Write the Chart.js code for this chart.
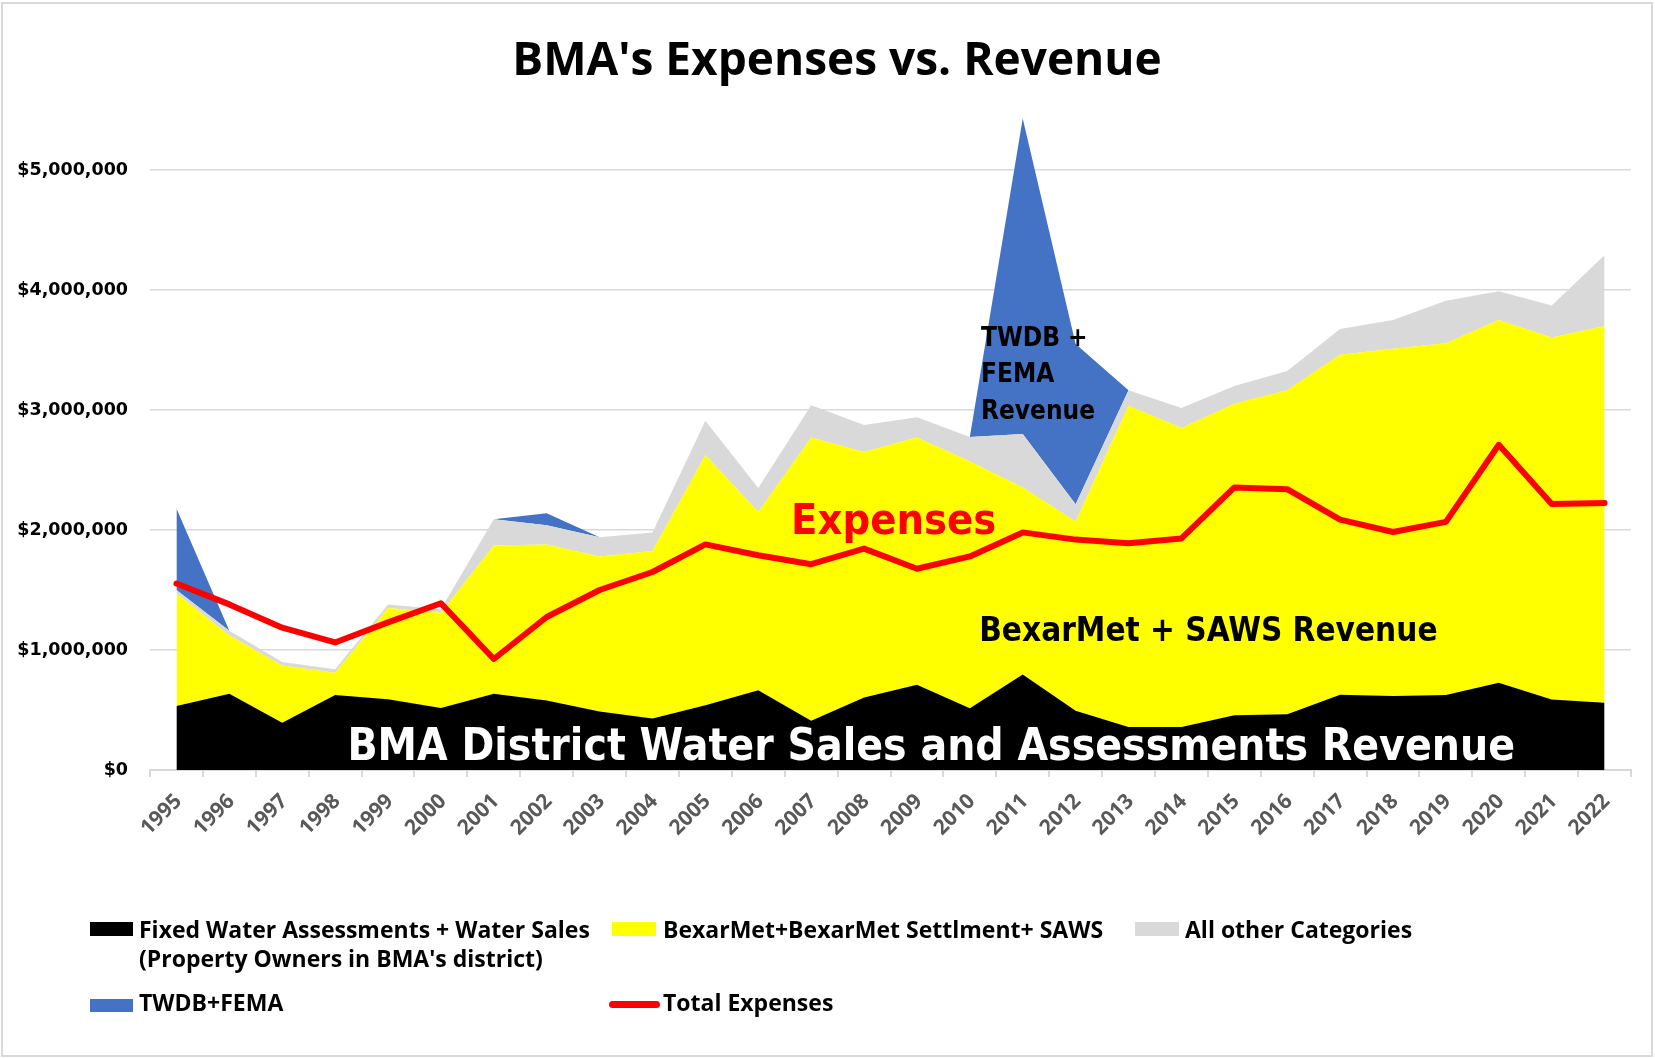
<!DOCTYPE html>
<html>
<head>
<meta charset="utf-8">
<title>BMA's Expenses vs. Revenue</title>
<script src="https://cdn.jsdelivr.net/npm/chart.js@4.4.1/dist/chart.umd.min.js"></script>
<style>
  html, body { margin: 0; padding: 0; background: #ffffff; }
  #wrap { position: relative; width: 1655px; height: 1058px; overflow: hidden; }
  #frame { position: absolute; left: 1px; top: 2px; width: 1652px; height: 1055px; border: 2px solid #d9d9d9; box-sizing: border-box; }
  #c { position: absolute; left: 0; top: 0; }
  #title { position: absolute; left: 0; top: 34px; width: 1674px; text-align: center; font-family: "Open Sans", Lato, sans-serif;
           font-weight: 700; font-size: 46px; line-height: 46px; color: #000; white-space: nowrap; }
  .legText { position: absolute; font-family: "Open Sans", Lato, sans-serif; font-weight: 700; font-size: 23px; line-height: 29px; color: #000; white-space: nowrap; }
  .legSw { position: absolute; }
</style>
</head>
<body>
<div id="wrap">
  <div id="frame"></div>
  <canvas id="c" width="1655" height="1058"></canvas>
  <div id="title"></div>
  <div id="legend"></div>
</div>
<script>
// ---------------- data ----------------
const years = ['1995','1996','1997','1998','1999','2000','2001','2002','2003','2004','2005','2006','2007','2008',
               '2009','2010','2011','2012','2013','2014','2015','2016','2017','2018','2019','2020','2021','2022'];

const fixedWaterSales = [533000, 635000, 393000, 625000, 590000, 517000, 635000, 580000, 487000, 430000,
                         540000, 665000, 410000, 605000, 710000, 515000, 795000, 494000, 358000, 358000,
                         457000, 464000, 628000, 617000, 625000, 728000, 587000, 560000];

const bexarMetSaws = [937000, 485000, 477000, 185000, 760000, 793000, 1235000, 1300000, 1293000, 1395000,
                      2085000, 1485000, 2360000, 2045000, 2060000, 2055000, 1560000, 1576000, 2677000, 2492000,
                      2596000, 2701000, 2832000, 2893000, 2931000, 3022000, 3017000, 3140000];

const allOtherCategories = [30000, 40000, 30000, 30000, 30000, 30000, 220000, 160000, 160000, 155000,
                            285000, 200000, 270000, 225000, 170000, 205000, 445000, 145000, 130000, 167000,
                            147000, 160000, 215000, 240000, 354000, 240000, 266000, 590000];

const twdbFema = [680000, 0, 0, 0, 0, 0, 0, 100000, 0, 0,
                  0, 0, 0, 0, 0, 0, 2630000, 1335000, 0, 0,
                  0, 0, 0, 0, 0, 0, 0, 0];

const totalExpenses = [1554000, 1380000, 1186000, 1063000, 1230000, 1390000, 925000, 1275000, 1500000, 1650000,
                       1880000, 1790000, 1715000, 1845000, 1677000, 1780000, 1980000, 1920000, 1890000, 1930000,
                       2355000, 2340000, 2087000, 1983000, 2068000, 2710000, 2217000, 2225000];

const yTickValues = [0, 1000000, 2000000, 3000000, 4000000, 5000000];

const seriesLabels = ['Fixed Water Assessments + Water Sales', 'BexarMet+BexarMet Settlment+ SAWS',
                      'All other Categories', 'TWDB+FEMA', 'Total Expenses'];
const seriesSubLabel = "(Property Owners in BMA's district)";
const seriesColors = ['#000000', '#FFFF00', '#D9D9D9', '#4472C4', '#FF0000'];

const titleText = "BMA's Expenses vs. Revenue";

// in-chart labels (anchored on the chart's own scales)
const annotations = [
  { lines: ['BMA District Water Sales and Assessments Revenue'], xIndex: 14.27, yValues: [87500],
    font: 'bold 44px "DejaVu Sans Condensed", "DejaVu Sans", sans-serif', color: '#FFFFFF', align: 'center' },
  { lines: ['BexarMet + SAWS Revenue'], xIndex: 19.51, yValues: [1071000],
    font: 'bold 33px "DejaVu Sans Condensed", "DejaVu Sans", sans-serif', color: '#000000', align: 'center' },
  { lines: ['Expenses'], xIndex: 13.56, yValues: [1967000],
    font: 'bold 43px "DejaVu Sans Condensed", "DejaVu Sans", sans-serif', color: '#FF0000', align: 'center' },
  { lines: ['TWDB +', 'FEMA', 'Revenue'], xIndex: 15.21, yValues: [3530000, 3233000, 2925000],
    font: 'bold 26px "DejaVu Sans Condensed", "DejaVu Sans", sans-serif', color: '#000000', align: 'left' }
];

const annotationPlugin = {
  id: 'inChartLabels',
  afterDatasetsDraw(chart) {
    const ctx = chart.ctx, xs = chart.scales.x, ys = chart.scales.y;
    ctx.save();
    annotations.forEach(a => {
      ctx.font = a.font;
      ctx.fillStyle = a.color;
      ctx.textAlign = a.align;
      ctx.textBaseline = 'alphabetic';
      a.lines.forEach((line, i) => {
        ctx.fillText(line, xs.getPixelForValue(a.xIndex), ys.getPixelForValue(a.yValues[i]));
      });
    });
    ctx.restore();
  }
};

function areaDataset(label, data, color, fill) {
  return {
    label: label, data: data, type: 'line', stack: 'revenue', order: 1,
    backgroundColor: color, borderColor: 'rgba(0,0,0,0)', borderWidth: 0,
    pointRadius: 0, pointHoverRadius: 0, fill: fill, tension: 0
  };
}

function dollars(v) {
  return '$' + String(Math.round(v)).replace(/\B(?=(\d{3})+(?!\d))/g, ',');
}

document.getElementById('title').textContent = titleText;

const chart = new Chart(document.getElementById('c'), {
  type: 'line',
  data: {
    labels: years,
    datasets: [
      areaDataset(seriesLabels[0], fixedWaterSales, seriesColors[0], 'origin'),
      areaDataset(seriesLabels[1], bexarMetSaws, seriesColors[1], '-1'),
      areaDataset(seriesLabels[2], allOtherCategories, seriesColors[2], '-1'),
      areaDataset(seriesLabels[3], twdbFema, seriesColors[3], '-1'),
      {
        label: seriesLabels[4], data: totalExpenses, type: 'line', stack: 'expenses', order: 0,
        borderColor: seriesColors[4], backgroundColor: seriesColors[4], borderWidth: 6,
        borderJoinStyle: 'round', borderCapStyle: 'round',
        pointRadius: 0, pointHoverRadius: 0, fill: false, tension: 0
      }
    ]
  },
  options: {
    responsive: false,
    animation: false,
    events: [],
    layout: { padding: { left: 0, right: 24, top: 110, bottom: 188 } },
    plugins: {
      legend: { display: false },
      tooltip: { enabled: false },
      title: { display: false }
    },
    scales: {
      x: {
        type: 'category',
        offset: true,
        grid: { display: true, offset: true, drawOnChartArea: false, drawTicks: true, tickLength: 7,
                color: '#D9D9D9', lineWidth: 2 },
        border: { display: true, color: '#D9D9D9', width: 2 },
        ticks: {
          autoSkip: false, minRotation: 45, maxRotation: 45, padding: 12, labelOffset: 2,
          color: '#595959', font: { family: '"Open Sans"', weight: 'bold', size: 21 }
        },
        afterFit(scale) { scale.height = 100; }
      },
      y: {
        stacked: true,
        min: 0, max: 5500000,
        grid: { color: '#D9D9D9', lineWidth: 1.5, drawTicks: false },
        border: { display: false },
        afterBuildTicks(scale) { scale.ticks = yTickValues.map(v => ({ value: v })); },
        ticks: {
          padding: 22, color: '#000000',
          font: { family: '"DejaVu Sans"', weight: 'bold', size: 17.5 },
          callback: v => dollars(v)
        },
        afterFit(scale) { scale.width = 150; }
      }
    }
  },
  plugins: [annotationPlugin]
});

// ---------------- legend (HTML, built from the series arrays) ----------------
const legendSlots = [
  { sw: { left: 90, top: 922, width: 43, height: 14 }, text: { left: 139, top: 915 } },
  { sw: { left: 612, top: 922, width: 44, height: 14 }, text: { left: 663, top: 915 } },
  { sw: { left: 1135, top: 922, width: 44, height: 14 }, text: { left: 1185, top: 915 } },
  { sw: { left: 90, top: 999, width: 43, height: 13 }, text: { left: 139, top: 988 } },
  { sw: { left: 609, top: 1001, width: 51, height: 7, radius: 4 }, text: { left: 663, top: 988 } }
];
const legendEl = document.getElementById('legend');
seriesLabels.forEach((lab, i) => {
  const slot = legendSlots[i];
  const sw = document.createElement('div');
  sw.className = 'legSw';
  sw.style.left = slot.sw.left + 'px'; sw.style.top = slot.sw.top + 'px';
  sw.style.width = slot.sw.width + 'px'; sw.style.height = slot.sw.height + 'px';
  sw.style.background = seriesColors[i];
  if (slot.sw.radius) sw.style.borderRadius = slot.sw.radius + 'px';
  legendEl.appendChild(sw);
  const tx = document.createElement('div');
  tx.className = 'legText';
  tx.style.left = slot.text.left + 'px'; tx.style.top = slot.text.top + 'px';
  tx.textContent = lab;
  if (i === 0) {
    tx.appendChild(document.createElement('br'));
    tx.appendChild(document.createTextNode(seriesSubLabel));
  }
  legendEl.appendChild(tx);
});
</script>
</body>
</html>
